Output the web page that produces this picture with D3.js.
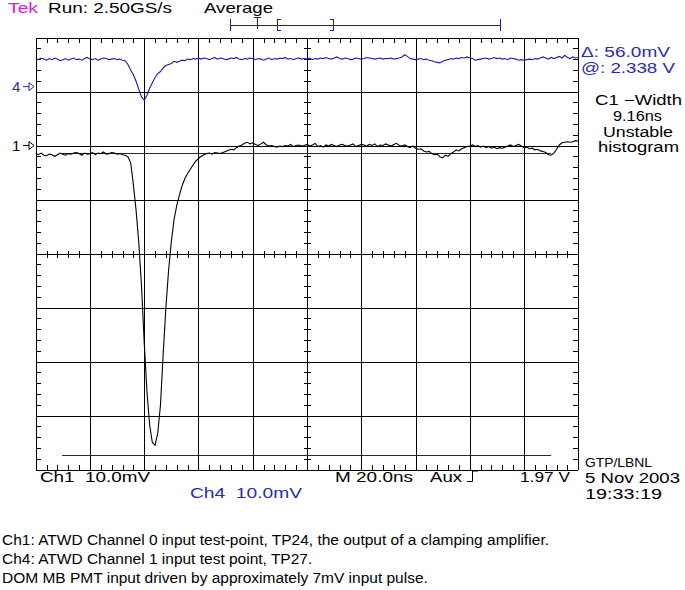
<!DOCTYPE html>
<html><head><meta charset="utf-8">
<script src="https://cdn.jsdelivr.net/npm/d3@7"></script>
<style>
html,body{margin:0;padding:0;background:#fff;}
svg{display:block;}
.scope{font-family:"Liberation Sans","DejaVu Sans",sans-serif;font-size:15px;}
.cap{font-family:"Liberation Sans Narrow","Liberation Sans",sans-serif;font-size:14px;}
</style></head>
<body>
<script>
// ---------- data ----------
const sampleIntervalNs = 1;            // one sample per ns, 0..200 ns
const timeRangeNs = [0, 200];          // 10 div x 20 ns/div
const voltRangeMv = [-40, 40];         // 8 div x 10 mV/div
const gridTimesNs = [0,20,40,60,80,100,120,140,160,180,200];
const gridVoltsMv = [-40,-30,-20,-10,0,10,20,30,40];

// Ch1 (black) — clamping amplifier output, mV on screen
const ch1Mv = [
18.5,18.3,18.6,18.2,18.1,18.4,18.3,18.0,18.3,18.6,18.4,18.2,18.5,18.4,18.6,18.7,18.5,18.2,18.6,18.4,
18.5,18.7,18.3,18.6,18.5,18.8,18.4,18.5,18.7,18.6,18.4,18.5,18.3,18.2,
17.9,16.8,12.8,8.0,2.0,-6.0,-16.5,-25.5,-31.8,-35.0,-35.5,-33.2,-28.0,-18.5,-9.9,-3.0,
2.2,6.3,8.9,10.9,12.6,13.9,14.8,15.6,16.4,17.1,17.6,18.0,18.3,
18.5,18.6,18.4,18.7,18.6,18.5,18.7,18.9,19.1,19.3,19.2,19.6,19.9,20.1,20.4,20.6,20.3,20.5,20.2,20.0,
20.3,20.6,20.1,19.9,20.0,19.8,19.7,19.9,19.8,20.0,19.9,20.2,19.8,20.0,20.1,19.9,20.0,
20.2,19.9,20.1,20.4,19.8,20.0,19.7,20.1,19.9,20.2,20.0,19.8,20.1,20.2,20.0,19.9,20.1,20.3,19.8,20.0,
20.2,20.1,19.9,20.2,20.0,20.3,19.8,20.1,20.0,20.3,20.1,19.9,20.2,20.4,20.0,19.9,20.1,19.8,19.6,19.9,
19.5,19.3,19.4,19.0,18.8,18.9,18.5,18.3,18.4,17.9,17.7,18.2,18.0,18.5,18.8,19.2,19.0,19.4,19.6,19.8,
19.9,20.1,19.8,20.0,19.7,19.9,19.6,19.8,19.5,19.7,19.4,19.6,19.5,19.7,19.9,20.1,19.8,20.0,20.2,19.9,
19.6,19.7,19.4,19.5,19.2,19.3,19.0,18.9,18.7,18.3,18.2,18.6,19.3,20.1,20.5,20.6,20.7,20.6,20.7,20.9,20.8
];

// Ch4 (blue) — ATWD channel 1 input, mV on screen
const ch4Mv = [
36.1,35.9,36.2,36.0,35.8,36.1,35.9,36.2,36.0,35.7,35.9,36.1,35.8,36.0,36.2,35.9,36.0,35.8,36.1,36.3,
36.0,35.9,36.1,35.8,36.0,36.2,36.1,35.9,36.0,36.1,35.9,36.0,35.8,
35.7,35.0,34.0,33.1,31.9,30.4,29.0,28.4,29.3,30.6,31.6,32.6,33.3,33.7,34.4,34.8,35.0,35.2,35.6,35.4,
35.6,35.8,35.7,36.0,35.9,36.1,36.0,36.2,
36.0,36.2,36.1,35.9,36.1,36.3,36.0,36.2,36.1,35.9,
36.0,36.2,36.1,36.3,36.0,35.9,36.1,36.0,36.2,36.1,
35.9,36.1,36.0,35.8,36.0,36.2,35.9,36.1,36.0,36.2,
36.1,36.3,36.0,36.1,35.9,36.1,36.2,36.0,36.1,36.0,
36.2,35.9,36.1,36.0,36.2,36.1,36.3,36.1,36.0,36.2,
36.4,36.1,36.0,36.2,36.1,35.9,36.0,36.2,36.1,36.0,
36.1,36.3,36.2,36.1,36.0,36.1,36.2,36.0,36.1,36.1,
36.2,36.0,36.1,36.2,36.4,36.8,36.5,36.1,36.0,35.9,
36.0,36.1,35.9,36.0,35.8,35.7,35.5,35.4,35.3,35.6,
35.8,35.9,36.1,36.0,36.2,36.1,36.3,36.2,36.4,36.2,
36.1,35.8,35.9,36.0,36.1,36.2,36.0,36.1,36.3,36.1,
36.2,36.0,36.1,35.9,36.2,36.1,36.0,35.8,35.9,35.8,
35.9,36.0,35.9,36.1,36.0,36.2,36.4,36.2,36.0,36.3,
36.1,36.3,36.5,36.2,36.7,36.3,36.1,36.4,36.2,36.3
];

// cursors (mV on screen) and their drawn extent (ns)
const cursorLevelsMv = [18.6, -37.4];
const cursorSpanNs = [9.7, 190];
const ch4MarkerMv = 30.9;   // "4" ground marker
const ch1MarkerMv = 20.0;   // "1" ground marker

const topTexts = [
  {t:"Tek", x:8, y:13, w:30, c:"#d820d0"},
  {t:"Run: 2.50GS/s", x:48, y:13, w:124, c:"#000"},
  {t:"Average", x:204, y:13, w:69, c:"#000"}
];
const rightTexts = [
  {t:"\u0394: 56.0mV", x:581, y:57, w:89, c:"#2a2ab4"},
  {t:"@: 2.338 V", x:581, y:73, w:94, c:"#2a2ab4"},
  {t:"C1 \u2212Width", x:595, y:105, w:87, c:"#000", fs:14},
  {t:"9.16ns", x:613, y:121, w:49, c:"#000", fs:14},
  {t:"Unstable", x:603, y:137, w:70, c:"#000", fs:14},
  {t:"histogram", x:598, y:152, w:81, c:"#000", fs:14}
];
const bottomTexts = [
  {t:"Ch1  10.0mV", x:40, y:482, w:110, c:"#000"},
  {t:"M 20.0ns", x:335, y:482, w:78, c:"#000"},
  {t:"Aux", x:430, y:482, w:32, c:"#000"},
  {t:"1.97 V", x:520, y:482, w:50, c:"#000"},
  {t:"Ch4  10.0mV", x:190, y:498, w:112, c:"#2a2ab4"},
  {t:"GTP/LBNL", x:585, y:467, w:67, c:"#000", fs:13},
  {t:"5 Nov 2003", x:585, y:483, w:95, c:"#000", fs:14},
  {t:"19:33:19", x:585, y:499, w:77, c:"#000", fs:14}
];
const captions = [
  {t:"Ch1: ATWD Channel 0 input test-point, TP24, the output of a clamping amplifier.", y:545},
  {t:"Ch4: ATWD Channel 1 input test point, TP27.", y:564},
  {t:"DOM MB PMT input driven by approximately 7mV input pulse.", y:583}
];
const captionLine1Width = 547;

// ---------- drawing ----------
const W = 685, H = 590;
const svg = d3.select("body").append("svg").attr("width", W).attr("height", H);
svg.append("rect").attr("width", W).attr("height", H).attr("fill", "#fff");

const x = d3.scaleLinear().domain(timeRangeNs).range([35.7, 578.3]);
const y = d3.scaleLinear().domain(voltRangeMv).range([469.5, 37.5]);
const blue = "#1c1ca0";

const g = svg.append("g").attr("shape-rendering", "crispEdges");
// grid
g.selectAll("line.vg").data(gridTimesNs).join("line")
  .attr("x1", d => Math.round(x(d)) + 0.5).attr("x2", d => Math.round(x(d)) + 0.5)
  .attr("y1", y(40)).attr("y2", y(-40)).attr("stroke", "#000");
g.selectAll("line.hg").data(gridVoltsMv).join("line")
  .attr("y1", d => Math.round(y(d)) + 0.5).attr("y2", d => Math.round(y(d)) + 0.5)
  .attr("x1", x(0)).attr("x2", x(200)).attr("stroke", "#000");

// minor ticks
const minorT = d3.range(0, 201, 4).filter(d => d % 20 !== 0);
const minorV = d3.range(-40, 41, 2).filter(d => d % 10 !== 0);
const tk = [];
minorT.forEach(t => {
  const px = Math.round(x(t)) + 0.5;
  tk.push([px, y(40), px, y(40) + 5]);
  tk.push([px, y(-40), px, y(-40) - 5]);
  tk.push([px, y(0) - 3, px, y(0) + 4]);
});
minorV.forEach(v => {
  const py = Math.round(y(v)) + 0.5;
  tk.push([x(0), py, x(0) + 5, py]);
  tk.push([x(200), py, x(200) - 5, py]);
  tk.push([x(100) - 3, py, x(100) + 4, py]);
});
g.selectAll("line.tk").data(tk).join("line")
  .attr("x1", d => d[0]).attr("y1", d => d[1]).attr("x2", d => d[2]).attr("y2", d => d[3])
  .attr("stroke", "#000");

// cursors
g.selectAll("line.cur").data(cursorLevelsMv).join("line")
  .attr("x1", x(cursorSpanNs[0])).attr("x2", x(cursorSpanNs[1]))
  .attr("y1", d => Math.round(y(d)) + 0.5).attr("y2", d => Math.round(y(d)) + 0.5)
  .attr("stroke", blue);

// traces
const line = d3.line().x((d, i) => x(i * sampleIntervalNs)).y(d => y(d));
svg.append("path").datum(ch4Mv).attr("d", line).attr("fill", "none")
  .attr("stroke", blue).attr("stroke-width", 1.1);
svg.append("path").datum(ch1Mv).attr("d", line).attr("fill", "none")
  .attr("stroke", "#000").attr("stroke-width", 1.1);

// ground markers
function marker(label, mv, color) {
  const py = y(mv);
  const m = svg.append("g");
  m.append("text").attr("class", "scope").attr("x", 12).attr("y", py + 5.5)
    .attr("fill", color).text(label);
  m.append("line").attr("x1", 23).attr("x2", 29).attr("y1", py).attr("y2", py)
    .attr("stroke", color);
  m.append("path").attr("d", `M29,${py-4}L34,${py}L29,${py+4}Z`)
    .attr("fill", "none").attr("stroke", color);
}
marker("4", ch4MarkerMv, "#2a2ab4");
marker("1", ch1MarkerMv, "#000");

// trigger / record bar at top
const tb = svg.append("g").attr("stroke", blue).attr("fill", "none").attr("shape-rendering", "crispEdges");
tb.append("line").attr("x1", 230.5).attr("x2", 501).attr("y1", 25.5).attr("y2", 25.5);
tb.append("line").attr("x1", 230.5).attr("x2", 230.5).attr("y1", 19).attr("y2", 31);
tb.append("line").attr("x1", 500.5).attr("x2", 500.5).attr("y1", 19).attr("y2", 31);
tb.append("path").attr("d", "M254,17.5H261M257.5,17.5V29");
tb.append("path").attr("d", "M281,19.5H277.5V30.5H281");
tb.append("path").attr("d", "M330,19.5H333.5V30.5H330");

// texts
function addTexts(list) {
  svg.selectAll(null).data(list).join("text")
    .attr("class", "scope")
    .attr("x", d => d.x).attr("y", d => d.y)
    .attr("fill", d => d.c)
    .attr("textLength", d => d.w).attr("lengthAdjust", "spacingAndGlyphs")
    .style("font-size", d => (d.fs || 15) + "px")
    .style("white-space", "pre")
    .text(d => d.t);
}
addTexts(topTexts);
addTexts(rightTexts);
addTexts(bottomTexts);

// trigger slope symbol
svg.append("path").attr("d", "M467,481.5H472.5V471H478").attr("fill", "none").attr("stroke", "#000");

// captions: same horizontal scale for every line, fitted on line 1
const caps = svg.selectAll("text.cap").data(captions).join("text")
  .attr("class", "cap").attr("x", 2).attr("y", d => d.y)
  .attr("fill", "#000").text(d => d.t);
const natural = caps.nodes().map(n => n.getComputedTextLength());
const k = captionLine1Width / natural[0];
caps.attr("textLength", (d, i) => natural[i] * k).attr("lengthAdjust", "spacingAndGlyphs");
</script>
</body></html>
